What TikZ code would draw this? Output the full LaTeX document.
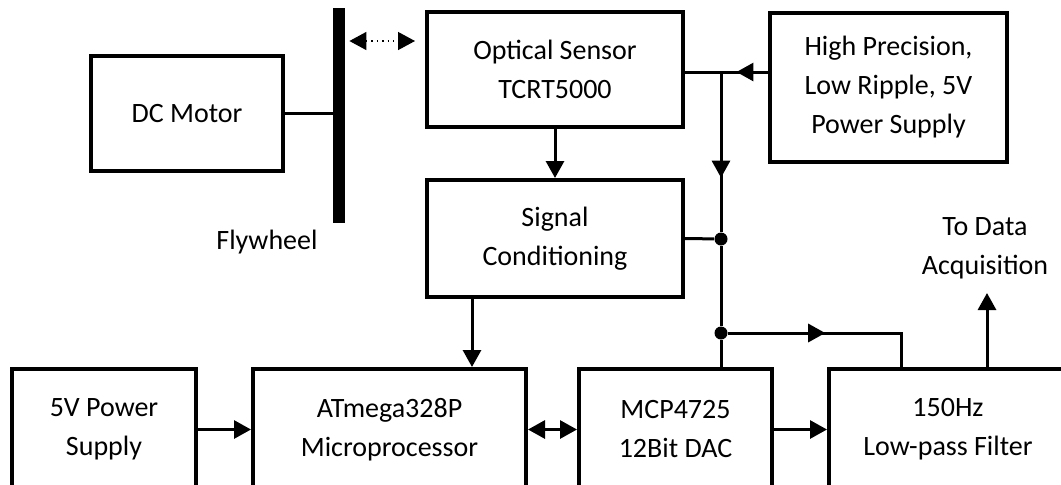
\documentclass[tikz,border=0pt]{standalone}
\usepackage{fontspec}
\setmainfont{Carlito}
\usetikzlibrary{arrows.meta,decorations.markings}

\begin{document}
\begin{tikzpicture}[x=0.5pt, y=-0.5pt,
    blk/.style={draw, line width=2pt, inner sep=0pt, align=center,
      font=\fontsize{14}{19.5}\selectfont},
    lbl/.style={align=center, font=\fontsize{14}{19.5}\selectfont},
    wire/.style={line width=1.5pt},
    tip/.style={-{Triangle[length=8.5pt,width=9pt]}},
    arr/.style={wire, tip},
    marr/.style={wire, postaction={decorate}, decoration={markings,
      mark=at position #1 with {\arrow{Triangle[length=8.5pt,width=9pt]}}}},
    jdot/.style={circle, fill, inner sep=0pt, minimum size=6.5pt},
  ]
  \useasboundingbox (0,0) rectangle (1061,484);
  \clip (0,0) rectangle (1061,484);
  % upper part
  \node[blk, minimum width=96pt, minimum height=57.5pt] (motor) at (187,113.5) {DC Motor};
  \node[fill, inner sep=0pt, minimum width=6pt, minimum height=107.5pt] (bar) at (339,115.5) {};
  \node[lbl] (flylbl) at (267,242) {Flywheel};
  \node[blk, minimum width=128pt, minimum height=57.5pt] (optical) at (555,69.5) {Optical Sensor\\TCRT5000};
  \node[blk, minimum width=128pt, minimum height=58.5pt] (signal) at (555,238.5) {Signal\\Conditioning};
  \node[blk, minimum width=118.5pt, minimum height=74.5pt] (hpsupply) at (888.5,87.5) {High Precision,\\Low Ripple, 5V\\Power Supply};
  % lower row
  \node[blk, minimum width=92pt, minimum height=60.5pt] (psu) at (104,429.5) {5V Power\\Supply};
  \node[blk, minimum width=136.5pt, minimum height=60.5pt] (mcu) at (389.5,429.5) {ATmega328P\\Microprocessor};
  \node[blk, minimum width=96.5pt, minimum height=60.5pt] (dac) at (675.5,429.5) {MCP4725\\12Bit DAC};
  \node[blk, minimum width=119pt, minimum height=60.5pt] (filter) at (948,429.5) {150Hz\\Low-pass Filter};
  \node[lbl] (daq) at (985,248) {To Data\\Acquisition};
  % junctions
  \coordinate (jtop) at (721,72);
  \node[jdot] (jsig) at (721,239) {};
  \node[jdot] (jdac) at (721,333) {};
  \coordinate (daqtip) at (987,293);

  \draw[wire] (motor.east) -- (motor.east -| bar.west);
  \draw[dotted, line width=0.7pt, {Triangle[length=8.5pt,width=9pt]}-{Triangle[length=8.5pt,width=9pt]},
    shorten <=2pt, shorten >=5pt] (bar.east |- 0,41) -- (optical.west |- 0,41);
  \draw[arr] (optical.south) -- (signal.north);
  \draw[marr=0.38] (hpsupply.west |- jtop) -- (optical.east |- jtop);
  \draw[marr=0.66] (jtop) -- (jsig);
  \draw[wire] (signal.east) -- (jsig);
  \draw[wire] (jsig) -- (jdac);
  \draw[wire] (jdac) -- (jdac |- dac.north);
  \draw[marr=0.47] (jdac) -- (901,333) -- (filter.north -| 901,0);
  \draw[arr] (filter.north -| daqtip) -- (daqtip);
  \draw[arr] (signal.south -| 472,0) -- (mcu.north -| 472,0);
  \draw[arr] (psu.east) -- (mcu.west);
  \draw[wire, {Triangle[length=8.5pt,width=9pt]}-{Triangle[length=8.5pt,width=9pt]}] (mcu.east) -- (dac.west);
  \draw[arr] (dac.east) -- (filter.west);
\end{tikzpicture}
\end{document}
